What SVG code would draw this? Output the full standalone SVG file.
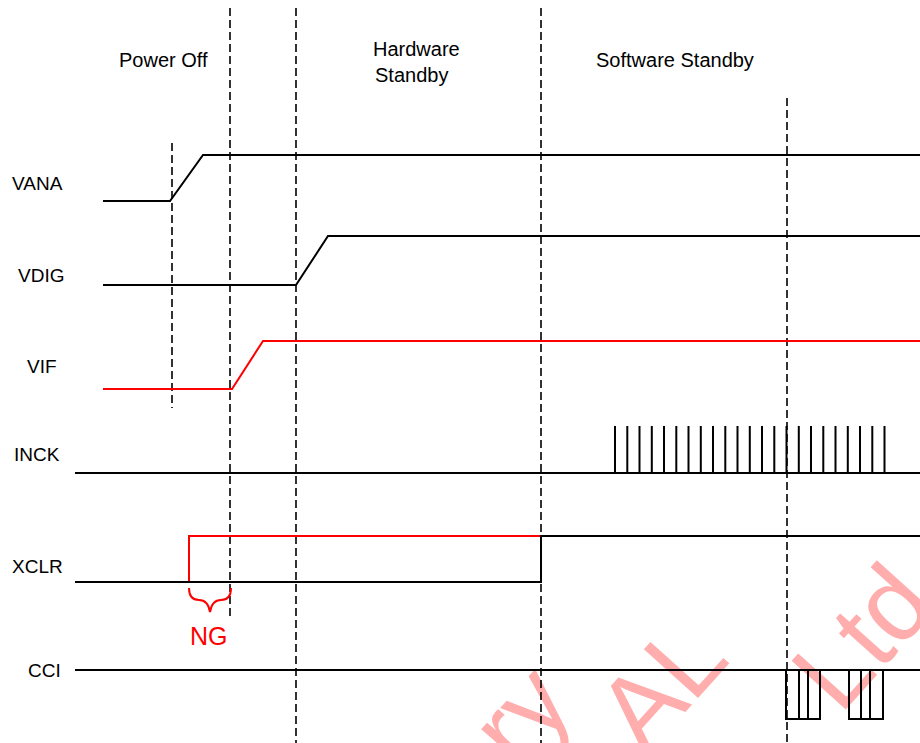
<svg xmlns="http://www.w3.org/2000/svg" width="920" height="743" viewBox="0 0 920 743">
<style>
.sig{fill:none;stroke:#000;stroke-width:2}
.red{fill:none;stroke:#ff0000;stroke-width:2}
.dash{fill:none;stroke:#000;stroke-width:1.6;stroke-dasharray:8,4}
.lbl{font-family:"Liberation Sans",Arial,sans-serif;font-size:19px;fill:#000}
.hdr{font-family:"Liberation Sans",Arial,sans-serif;font-size:20px;fill:#000}
.wm{font-family:"Liberation Sans",Arial,sans-serif;font-size:106px;fill:#ff0000;fill-opacity:0.32}
</style>
<rect width="920" height="743" fill="#fff"/>
<g id="watermark">
<text class="wm" transform="translate(518,772) rotate(-48)">ry</text>
<text class="wm" transform="translate(645,757) rotate(-48)">AL</text>
<text class="wm" transform="translate(840,716) rotate(-48)">Ltd</text>
</g>
<g id="phases">
<text class="hdr" x="119" y="67">Power Off</text>
<text class="hdr" x="373" y="56">Hardware</text>
<text class="hdr" x="375" y="82">Standby</text>
<text class="hdr" x="596" y="67">Software Standby</text>
</g>
<g id="connectors">
<line class="dash" x1="230" y1="8" x2="230" y2="620"/>
<line class="dash" x1="296" y1="8" x2="296" y2="743"/>
<line class="dash" x1="541" y1="8" x2="541" y2="743"/>
<line class="dash" x1="787" y1="98" x2="787" y2="743"/>
<line class="dash" x1="172" y1="143" x2="172" y2="408"/>
</g>
<g id="VANA">
<text class="lbl" x="12" y="190">VANA</text>
<polyline class="sig" points="103,201 170,201 203,155 920,155"/>
</g>
<g id="VDIG">
<text class="lbl" x="18" y="282">VDIG</text>
<polyline class="sig" points="103,285 296,285 328,236 920,236"/>
</g>
<g id="VIF">
<text class="lbl" x="27" y="373">VIF</text>
<polyline class="red" points="103,389 232,389 263,341 920,341"/>
</g>
<g id="INCK">
<text class="lbl" x="14" y="461">INCK</text>
<line class="sig" x1="75" y1="473" x2="920" y2="473"/>
<path class="sig" d="M615,473V426M627.3,473V426M639.5,473V426M651.8,473V426M664,473V426M676.3,473V426M688.5,473V426M700.8,473V426M713,473V426M725.3,473V426M737.5,473V426M749.8,473V426M762,473V426M774.3,473V426M786.5,473V426M798.8,473V426M811,473V426M823.3,473V426M835.5,473V426M847.8,473V426M860,473V426M872.3,473V426M884.5,473V426"/>
</g>
<g id="XCLR">
<text class="lbl" x="12" y="573">XCLR</text>
<polyline class="red" points="189,582 189,536 541,536"/>
<polyline class="sig" points="75,582 541,582 541,536 920,536"/>
<path class="red" d="M189,588 Q189,600 199,600 Q208,600 210,612 Q212,600 221,600 Q231,600 231,588"/>
<text x="190" y="645" font-family="Liberation Sans,Arial,sans-serif" font-size="25" fill="#ff0000">NG</text>
</g>
<g id="CCI">
<text class="lbl" x="28" y="677">CCI</text>
<line class="sig" x1="75" y1="670" x2="920" y2="670"/>
<path class="sig" d="M786,670V719H820V670M799,670V719M808,670V719M849,670V719H883V670M861,670V719M870,670V719"/>
</g>
</svg>
